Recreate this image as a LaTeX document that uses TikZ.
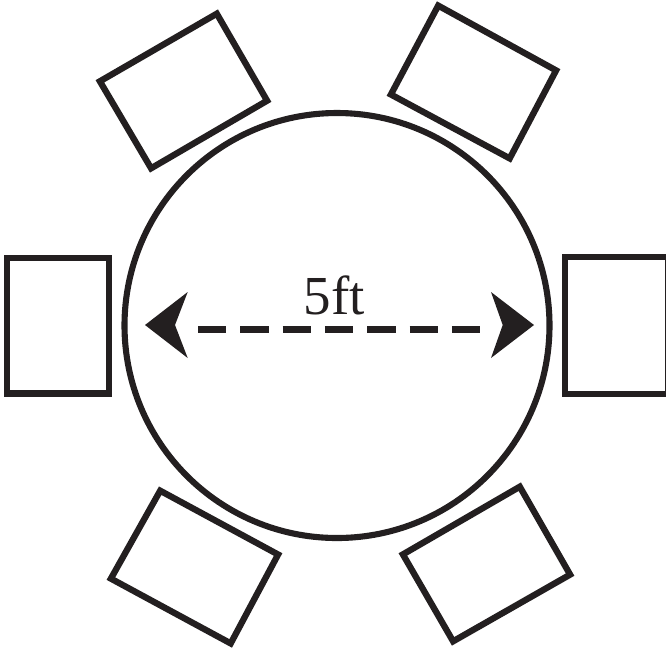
\documentclass[tikz,border=0pt]{standalone}
\usepackage{fontspec}
\setmainfont{Liberation Serif}
\definecolor{ink}{HTML}{231F20}
\tikzset{
  chair/.style={draw=ink,line width=6.3pt,miter limit=10,line join=miter,fill=white},
  tabletop/.style={draw=ink,line width=6.1pt,circle,inner sep=0pt,minimum size=425pt},
  head/.style={fill=ink,draw=none},
  dim/.style={draw=ink,line width=6.8pt,dash pattern=on 28.4pt off 13.9pt},
  lbl/.style={text=ink,inner sep=0pt,font=\fontsize{55}{55}\selectfont,anchor=base}
}
\begin{document}
\begin{tikzpicture}[x=1pt,y=-1pt]
\path[use as bounding box] (0,0) rectangle (666,649);
\clip (0,0) rectangle (666,649);
\node[tabletop] (table) at (337,325.5) {};
\draw[chair] (7.2,258) rectangle (109,393.5);
\draw[chair] (565,257.2) rectangle (668.3,394);
\draw[chair] (216.8,13.7) -- (267.1,100.7) -- (151.1,168.3) -- (99.9,81.3) -- cycle;
\draw[chair] (438.2,5.6) -- (556.1,70.4) -- (509.7,158.4) -- (390.9,94.5) -- cycle;
\draw[chair] (160.2,490.7) -- (278.1,554.5) -- (230.7,643.4) -- (110.9,578.6) -- cycle;
\draw[chair] (519.8,486.7) -- (570.1,574.6) -- (453.1,641.3) -- (402.9,554.4) -- cycle;
\coordinate (dimL) at (198,329.3);
\coordinate (dimR) at (480,329.3);
\draw[dim] (dimL) -- (dimR);
\fill[head] (145,325) -- (187.7,292) -- (175,325) -- (187.7,358) -- cycle;
\fill[head] (534,325) -- (491,292) -- (502.7,325) -- (491,358) -- cycle;
\node[lbl] (len) at (334.5,314) {5ft};
\end{tikzpicture}
\end{document}
